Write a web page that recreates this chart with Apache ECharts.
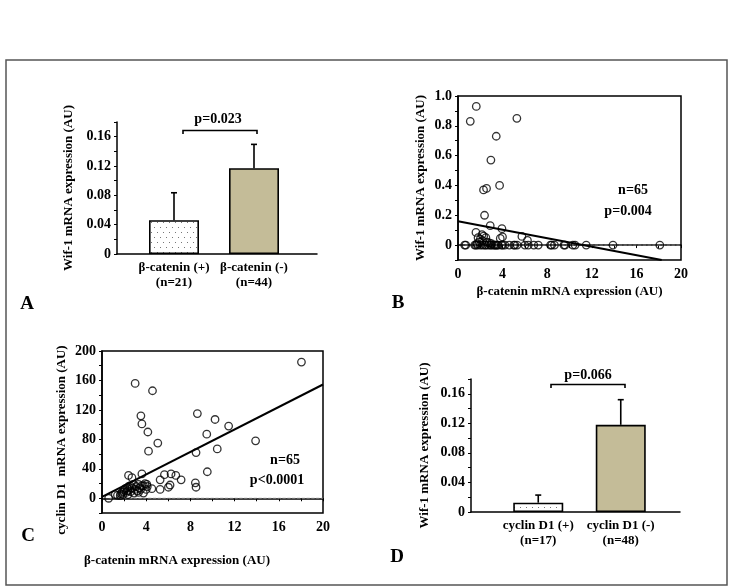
<!DOCTYPE html>
<html><head><meta charset="utf-8">
<script src="https://cdn.jsdelivr.net/npm/echarts@6/dist/echarts.min.js"></script>
<style>html,body{margin:0;padding:0;background:#fff}#c{width:730px;height:588px}</style>
</head><body><div id="c"></div>
<script>
// ---- Data ----
const aCategories = ['β-catenin (+)\n(n=21)', 'β-catenin (-)\n(n=44)'];
const aMeans = [0.046, 0.117];
const aErrors = [0.0375, 0.0325];
const aPValue = 'p=0.023';

const dCategories = ['cyclin D1 (+)\n(n=17)', 'cyclin D1 (-)\n(n=48)'];
const dMeans = [0.0126, 0.118];
const dErrors = [0.0103, 0.034];
const dPValue = 'p=0.066';

const barTickLabels = ['0', '0.04', '0.08', '0.12', '0.16'];
const scatterXTickLabels = ['0', '4', '8', '12', '16', '20'];
const bYTickLabels = ['0', '0.2', '0.4', '0.6', '0.8', '1.0'];
const cYTickLabels = ['0', '40', '80', '120', '160', '200'];

// Panel B: beta-catenin (x) vs Wif-1 (y)
const bX = [1.10,1.64,5.28,3.43,2.95,2.29,2.56,3.73,2.38,2.89,3.94,
  1.61,2.15,1.80,2.00,2.50,2.20,1.90,2.60,3.79,3.99,5.73,6.23,2.30,1.70,2.80,3.00,
  0.60,0.70,1.50,1.75,2.00,2.40,2.70,3.00,3.20,3.40,3.60,3.90,4.20,4.60,5.10,5.30,6.00,6.30,6.80,7.20,8.30,8.40,8.65,9.50,9.60,10.30,10.50,11.50,13.90,18.10,2.20,2.90,1.60,4.00,3.50,5.00,2.50,3.30];
const bY = [0.83,0.93,0.85,0.73,0.57,0.37,0.38,0.40,0.20,0.13,0.11,
  0.085,0.07,0.05,0.04,0.05,0.03,0.02,0.02,0.045,0.055,0.058,0.031,0.06,0.01,0.015,0.01,
  0,0,0,0,0,0,0,0,0,0,0,0,0,0,0,0,0,0,0,0,0,0,0,0,0,0,0,0,0,0,0,0,0,0,0,0,0,0];
const bFit = [[0, 0.16], [18.27, -0.1]];
const bZeroLine = [[0.65, 0], [20, 0]];
const bStats = ['n=65', 'p=0.004'];

// Panel C: beta-catenin (x) vs cyclin D1 (y)
const cX = [18.05,3.0,4.57,3.52,3.61,4.15,5.05,4.21,8.63,10.23,11.46,9.48,10.43,8.51,13.9,9.53,8.45,8.51,7.16,6.68,6.25,5.65,5.26,5.26,6.16,6.01,4.51,3.61,2.4,2.71,4.06,0.6,1.4,1.65,1.7,1.8,1.95,2.0,2.1,2.2,2.26,2.3,2.4,2.5,2.55,2.6,2.7,2.85,2.9,3.0,3.1,3.2,3.3,3.3,3.4,3.5,3.6,3.75,3.75,3.9,4.0,1.2,1.9,2.35,4.1];
const cY = [185,156,146,112,101,90,75,64,115,107,98,87,67,62,78,36,21,15,25,31,33,32,25,12,18,15,13,33,31,28,19,0,4,3.5,6,8,9,11,13,8,14,10,16,12,17,9,14,19,7,12,16,10,19,8,14,12,17,17,7,20,12,5,5,5,16];
const cFit = [[0, 2], [20, 154.5]];
const cZeroLine = [[0.7, 0], [20, 0]];
const cStats = ['n=65', 'p<0.0001'];

// ---- Styles ----
const FONT = 'Liberation Serif';
const txt = {fontFamily: FONT, fontWeight: 'bold', color: '#000', fontSize: 13};
const tickTxt = {fontFamily: FONT, fontWeight: 'bold', color: '#000', fontSize: 14};
const tan = '#c4bc98';

function dotPattern() {
  const cv = document.createElement('canvas');
  cv.width = 6; cv.height = 10;
  const g = cv.getContext('2d');
  g.fillStyle = '#fff'; g.fillRect(0, 0, 6, 10);
  g.fillStyle = '#777';
  g.fillRect(1, 2, 1, 1);
  g.fillRect(4, 7, 1, 1);
  return {image: cv, repeat: 'repeat'};
}
const dots = dotPattern();

function labelFrom(list) {
  return function (v) {
    for (const s of list) { if (Math.abs(parseFloat(s) - v) < 1e-6) return s; }
    return '';
  };
}

function errRender(params, api) {
  const i = api.value(0), v = api.value(1), e = api.value(2);
  const p0 = api.coord([i, v]);
  const p1 = api.coord([i, v + e]);
  return {type: 'group', children: [
    {type: 'line', shape: {x1: p0[0], y1: p0[1], x2: p1[0], y2: p1[1]}, style: {stroke: '#000', lineWidth: 1.6}},
    {type: 'line', shape: {x1: p1[0] - 3, y1: p1[1], x2: p1[0] + 3, y2: p1[1]}, style: {stroke: '#000', lineWidth: 1.6}}
  ]};
}

const axisLineBlack = {show: true, lineStyle: {color: '#000', width: 1.5}};
const tickOut = {show: true, length: 3, inside: false, lineStyle: {color: '#000', width: 1}};

function barFrameAxes(gridIndex, yName, yGap) {
  return {
    x: {gridIndex, type: 'value', min: 0, max: 1, axisLine: axisLineBlack, axisTick: {show: false}, axisLabel: {show: false}, splitLine: {show: false}},
    y: {gridIndex, type: 'value', min: 0, max: 0.18, interval: 0.02, axisLine: axisLineBlack, axisTick: tickOut,
        axisLabel: Object.assign({}, tickTxt, {formatter: labelFrom(barTickLabels), margin: 6}),
        splitLine: {show: false}, name: yName, nameLocation: 'middle', nameGap: yGap, nameTextStyle: txt}
  };
}
function barDataAxes(gridIndex, cats) {
  return {
    x: {gridIndex, type: 'category', data: cats, axisLine: {show: false}, axisTick: {show: false},
        axisLabel: Object.assign({}, txt, {margin: 6, lineHeight: 15, interval: 0})},
    y: {gridIndex, type: 'value', min: 0, max: 0.18, show: false, splitLine: {show: false}}
  };
}
function scatterAxes(gridIndex, yMin, yMax, yInt, yLabels, yName, yGap, xName, namePad) {
  return {
    x: {gridIndex, type: 'value', min: 0, max: 20, interval: 2, axisLine: axisLineBlack, axisTick: tickOut,
        axisLabel: Object.assign({}, tickTxt, {formatter: labelFrom(scatterXTickLabels), margin: 7}),
        splitLine: {show: false}, name: xName, nameLocation: 'middle', nameGap: 25, nameTextStyle: txt},
    y: {gridIndex, type: 'value', min: yMin, max: yMax, interval: yInt, axisLine: axisLineBlack, axisTick: tickOut,
        axisLabel: Object.assign({}, tickTxt, {formatter: labelFrom(yLabels), margin: 6}),
        splitLine: {show: false}, name: yName, nameLocation: 'middle', nameGap: yGap,
        nameTextStyle: Object.assign({}, txt, {padding: namePad || 0})}
  };
}

const aF = barFrameAxes(0, 'Wif-1 mRNA expression (AU)', 42);
const aD = barDataAxes(1, aCategories);
const bA = scatterAxes(2, -0.1, 1.0, 0.1, bYTickLabels, 'Wif-1 mRNA expression (AU)', 31, 'β-catenin mRNA expression (AU)');
const cA = scatterAxes(3, -20, 200, 20, cYTickLabels, 'cyclin D1  mRNA expression (AU)', 34, '', [0, 16, 0, 0]);
const dF = barFrameAxes(4, 'Wif-1 mRNA expression (AU)', 40);
const dD = barDataAxes(5, dCategories);

function barSeries(xi, means, errs) {
  return [
    {type: 'bar', xAxisIndex: xi, yAxisIndex: xi, barWidth: 50,
     data: means.map((v, i) => ({value: v, itemStyle: {color: i === 0 ? dots : tan, borderColor: '#000', borderWidth: 1.6}})),
     silent: true},
    {type: 'custom', xAxisIndex: xi, yAxisIndex: xi, renderItem: errRender, z: 5,
     data: means.map((v, i) => [i, v, errs[i]]), encode: {x: 0, y: 1}}
  ];
}
function scatterSeries(xi, xs, ys, fit, zero) {
  return [
    {type: 'line', xAxisIndex: xi, yAxisIndex: xi, data: zero, symbol: 'none', lineStyle: {color: '#888', width: 0.8, type: 'dashed'}, z: 1, silent: true},
    {type: 'scatter', xAxisIndex: xi, yAxisIndex: xi, data: xs.map((x, i) => [x, ys[i]]), symbol: 'circle', symbolSize: 7.5,
     itemStyle: {color: 'rgba(255,255,255,0)', borderColor: '#000', borderWidth: 1.3}, z: 3},
    {type: 'line', xAxisIndex: xi, yAxisIndex: xi, data: fit, symbol: 'none', lineStyle: {color: '#000', width: 2}, z: 4}
  ];
}

const T = (text, x, y, size, align) => ({type: 'text', x, y, style: {text, fontFamily: FONT, fontWeight: 'bold', fontSize: size || 13.5, fill: '#000', align: align || 'center', verticalAlign: 'middle'}});

const option = {
  animation: false,
  backgroundColor: '#fff',
  grid: [
    {left: 117, top: 122, width: 200, height: 132},
    {left: 134, top: 122, width: 160, height: 132},
    {left: 458, top: 96, width: 223, height: 164, show: true, borderColor: '#000', borderWidth: 1.5},
    {left: 102, top: 351, width: 221, height: 162, show: true, borderColor: '#000', borderWidth: 1.5},
    {left: 471, top: 379, width: 209, height: 133},
    {left: 497, top: 379, width: 165, height: 133}
  ],
  xAxis: [aF.x, aD.x, bA.x, cA.x, dF.x, dD.x],
  yAxis: [aF.y, aD.y, bA.y, cA.y, dF.y, dD.y],
  series: [].concat(
    barSeries(1, aMeans, aErrors),
    scatterSeries(2, bX, bY, bFit, bZeroLine),
    scatterSeries(3, cX, cY, cFit, cZeroLine),
    barSeries(5, dMeans, dErrors)
  ),
  graphic: [
    {type: 'rect', shape: {x: 6, y: 60, width: 721, height: 525}, style: {fill: 'none', stroke: '#555', lineWidth: 1.5}, silent: true},
    {type: 'polyline', shape: {points: [[183, 134], [183, 130.5], [257, 130.5], [257, 134]]}, style: {fill: 'none', stroke: '#000', lineWidth: 1.6}},
    T(aPValue, 218, 119, 14),
    {type: 'polyline', shape: {points: [[551, 388], [551, 384.5], [625, 384.5], [625, 388]]}, style: {fill: 'none', stroke: '#000', lineWidth: 1.6}},
    T(dPValue, 588, 375, 14),
    T(bStats[0], 633, 190, 14), T(bStats[1], 628, 211, 14),
    T(cStats[0], 285, 460, 14), T(cStats[1], 277, 480, 14),
    T('β-catenin mRNA expression (AU)', 177, 561, 13),
    T('A', 27, 304, 19), T('B', 398, 303, 19), T('C', 28, 536, 19), T('D', 397, 557, 19)
  ]
};

const chart = echarts.init(document.getElementById('c'), null, {renderer: 'canvas'});
chart.setOption(option);
</script>
</body></html>
